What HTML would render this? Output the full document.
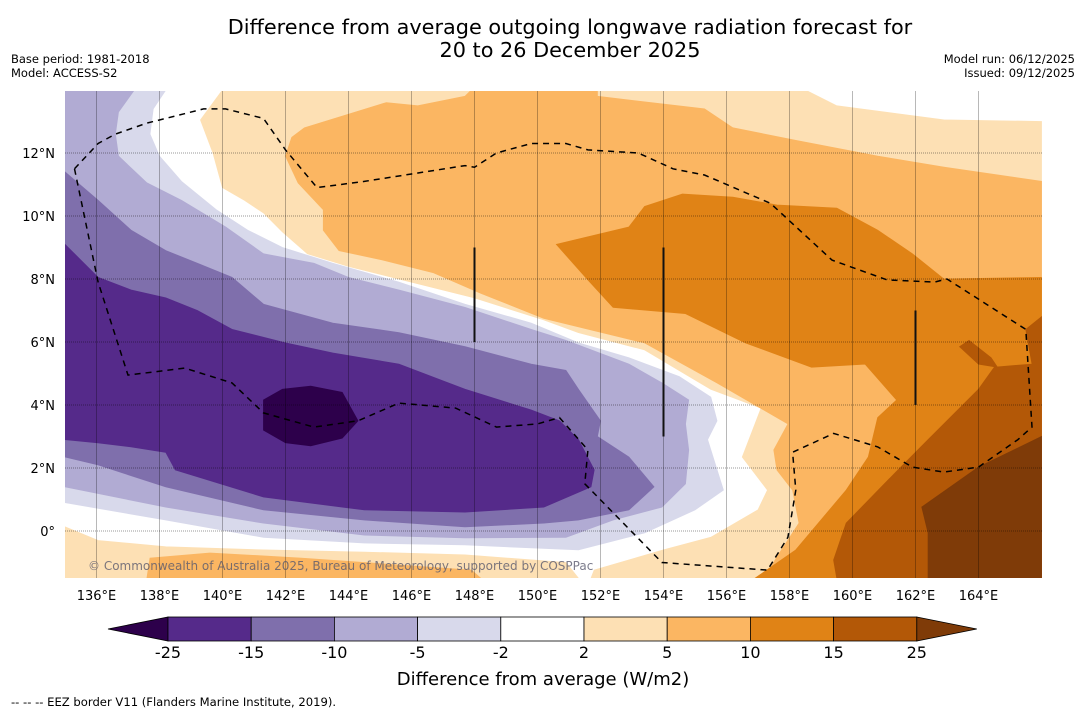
<!DOCTYPE html>
<html><head><meta charset="utf-8">
<style>
html,body{margin:0;padding:0;background:#fff;}
body{width:1085px;height:713px;position:relative;overflow:hidden;font-family:"Liberation Sans","DejaVu Sans",sans-serif;}
svg{position:absolute;left:0;top:0;}
</style></head>
<body>
<svg id="chart" width="1085" height="713" font-family="'DejaVu Sans','Liberation Sans',sans-serif">
  <text x="570" y="34" font-size="20.8" text-anchor="middle">Difference from average outgoing longwave radiation forecast for</text>
  <text x="570" y="57" font-size="20.8" text-anchor="middle">20 to 26 December 2025</text>
  <text x="11" y="63" font-size="11.5">Base period: 1981-2018</text>
  <text x="11" y="77" font-size="11.5">Model: ACCESS-S2</text>
  <text x="1075" y="63" font-size="11.5" text-anchor="end">Model run: 06/12/2025</text>
  <text x="1075" y="77" font-size="11.5" text-anchor="end">Issued: 09/12/2025</text>
  <defs><clipPath id="mapclip"><rect x="65" y="91" width="977" height="487"/></clipPath></defs>
  <g id="map" clip-path="url(#mapclip)">
    <rect x="65" y="91" width="977" height="487" fill="#ffffff"/>
  </g>
  <g id="axes"></g>
  <g id="cbar"></g>
  <text x="543" y="685" font-size="18" text-anchor="middle">Difference from average (W/m2)</text>
  <text x="11" y="706" font-size="11.6">--  --  -- EEZ border V11 (Flanders Marine Institute, 2019).</text>
</svg>
<script>
// Contour polygons in [lon, lat]
const ge2 = [[140,14],[158.5,14],[159.5,13.5],[162.9,13.05],[166,13],[166,-1.5],[151.7,-1.5],[151.8,-1.24],[154,-0.6],[155.5,-0.2],[157,0.67],[157.3,1.3],[156.5,2.35],[157.1,3.9],[155.5,4.5],[153.4,5.75],[151.3,6.3],[150.2,6.7],[148,7.4],[145.6,8.0],[144,8.4],[142.7,8.8],[141.9,9.5],[141.3,10.1],[140.7,10.5],[140,10.9],[139.7,12],[139.3,13.05]];
const ge2b = [[135,0.13],[136.05,-0.3],[138.2,-0.5],[141.3,-0.6],[144.5,-0.67],[147.7,-0.76],[150.9,-1.0],[151.3,-1.5],[135,-1.5]];
const ge5 = [[142.2,12.5],[142.6,12.8],[145.2,13.6],[146.2,13.5],[147.7,13.8],[147.9,14],[151.9,14],[151.9,13.8],[155.3,13.4],[156.2,12.8],[158.2,12.4],[160.8,11.9],[162.9,11.55],[166,11.1],[166,-1.5],[157.2,-1.5],[157.6,-0.83],[158.3,0.25],[158.1,1.3],[157.6,1.94],[157.5,2.57],[157.95,3.4],[155.7,4.7],[153.4,5.97],[150.2,6.75],[148.2,7.55],[146.7,8.2],[145.1,8.6],[143.7,8.9],[143.2,9.55],[143.2,10.2],[142.4,11.05],[142,11.9]];
const ge5b = [[137.6,-1.5],[137.7,-0.86],[139.6,-0.7],[142.5,-0.86],[145.6,-1.08],[147.9,-1.24],[148.2,-1.5]];
const ge10 = [[150.6,9.1],[152.9,9.65],[153.4,10.3],[154.6,10.7],[156.2,10.6],[157.6,10.35],[159.5,10.25],[160.8,9.55],[161.9,8.8],[162.9,8.0],[166,8.05],[166,-1.5],[156.9,-1.5],[158.2,-0.6],[159.8,1.3],[160.5,2.35],[160.8,3.6],[161.4,4.16],[160.4,5.3],[158.7,5.2],[156.6,5.97],[154.7,6.9],[152.4,7.1],[151.6,7.97]];
const ge15 = [[166,6.8],[165.5,6.4],[165.7,5.3],[164.5,5.2],[164,4.5],[162.4,2.9],[161.35,1.84],[159.8,0.25],[159.4,-0.92],[159.5,-1.5],[166,-1.5]];
const ge15b = [[163.4,5.85],[163.7,6.05],[164.4,5.5],[164.6,5.2],[164,5.3]];
const ge25 = [[166,3.0],[164,2.03],[162.2,0.76],[162.4,-0.06],[162.4,-1.5],[166,-1.5]];
const le2 = [[135,14],[138.2,14],[137.8,13.4],[137.7,12.6],[138,11.9],[138.7,11.1],[139.8,10.2],[140.8,9.55],[141.9,9.0],[143.5,8.5],[145.6,7.9],[147.7,7.2],[149.8,6.6],[151.3,5.97],[152.9,5.5],[154.5,4.9],[155.5,4.25],[155.7,3.5],[155.4,2.9],[155.9,1.3],[155,0.67],[153.4,-0.06],[151.3,-0.6],[147.7,-0.44],[144.5,-0.38],[141.3,-0.2],[138.2,0.35],[135,0.9]];
const le5 = [[135,14],[137.2,14],[136.7,13.3],[136.6,12.6],[136.7,11.9],[137.6,11.05],[138.7,10.5],[140.1,9.65],[141.3,8.8],[142.9,8.5],[144,8.05],[145.6,7.65],[147.7,7.1],[149.8,6.4],[150.9,6.05],[152.9,5.3],[153.95,4.7],[154.8,4.16],[154.7,3.4],[154.8,2.57],[154.7,1.5],[153.95,0.76],[152.4,0.35],[150.9,-0.2],[147.7,-0.22],[144.5,-0.13],[141.3,0.25],[138.2,0.76],[135,1.4]];
const le10 = [[135,11.4],[136.05,10.5],[137.1,9.55],[138.2,8.9],[139.2,8.5],[140.3,8.05],[141.3,7.2],[143.5,6.6],[145.6,6.3],[147.7,5.85],[149.8,5.3],[150.9,5.1],[151.3,4.5],[152,3.5],[151.9,3.0],[152.9,2.35],[153.7,1.4],[152.9,0.67],[151.3,0.35],[150.2,0.25],[147.7,0.13],[144.5,0.35],[141.3,0.67],[138.2,1.4],[136.05,2.1],[135,2.35]];
const le15 = [[135,9.1],[136.05,8.05],[137.1,7.65],[138.2,7.4],[139.2,7.0],[140.3,6.4],[142,5.97],[143.5,5.65],[145.6,5.3],[147.7,4.5],[149.8,3.84],[150.7,3.5],[151.3,2.9],[151.8,1.94],[151.7,1.4],[150.2,0.76],[147.7,0.6],[144.5,0.67],[141.3,1.08],[138.5,1.94],[138.2,2.5],[137.1,2.67],[136.05,2.8],[135,2.9]];
const le25 = [[141.3,4.16],[141.9,4.5],[142.8,4.6],[143.8,4.4],[144.3,3.5],[143.8,2.95],[142.8,2.7],[142,2.8],[141.3,3.2]];
const eez = [[135.3,11.5],[136.05,12.3],[136.6,12.6],[137.6,12.95],[139.4,13.4],[140.1,13.4],[141.3,13.1],[142,12.1],[143,10.9],[144.5,11.1],[147.7,11.6],[148,11.55],[148.7,12.0],[149.8,12.3],[150.9,12.3],[151.6,12.1],[153.2,12],[154.3,11.5],[155.3,11.3],[157.4,10.4],[159.35,8.6],[161.1,7.97],[162.6,7.9],[163,8.0],[165.5,6.4],[165.7,3.3],[165.25,2.9],[164,2.03],[162.9,1.87],[161.9,2.03],[160.8,2.67],[159.4,3.1],[158.1,2.5],[158.2,1.3],[157.95,-0.2],[157.3,-1.24],[153.95,-1.0],[151.5,1.5],[151.6,2.57],[150.7,3.6],[150,3.4],[148.7,3.3],[147.4,3.9],[145.6,4.06],[144.3,3.5],[142.9,3.3],[141.3,3.75],[140.3,4.7],[138.8,5.17],[137,4.95],[136.05,7.9]];
const boundaryBars = [[148,6,9],[154,3,9],[162,4,7]];
const lonTicks = [136,138,140,142,144,146,148,150,152,154,156,158,160,162,164];
const latTicks = [0,2,4,6,8,10,12];
const cbarLevels = ["-25","-15","-10","-5","-2","2","5","10","15","25"];
const cbarColors = ["#552a8a","#7f6fac","#b1abd3","#d8d9eb","#ffffff","#fde0b4","#fbb662","#e08316","#b35807"];

const NS = "http://www.w3.org/2000/svg";
const X0 = 65, PX = 31.5, Y0 = 531;
function xs(lon){ return X0 + (lon - 135) * PX; }
function ys(lat){ return Y0 - lat * PX; }
function mk(tag, attrs, parent){ const e = document.createElementNS(NS, tag); for (const k in attrs) e.setAttribute(k, attrs[k]); parent.appendChild(e); return e; }
function pts(arr){ return arr.map(p => xs(p[0]).toFixed(1) + "," + ys(p[1]).toFixed(1)).join(" "); }

const map = document.getElementById("map");
const layers = [
  [ge2,"#fde0b4","contour-2-to-5"],[ge2b,"#fde0b4","contour-2-to-5-south"],
  [ge5,"#fbb662","contour-5-to-10"],[ge5b,"#fbb662","contour-5-to-10-south"],
  [ge10,"#e08316","contour-10-to-15"],[ge15,"#b35807","contour-15-to-25"],[ge15b,"#b35807","contour-15-to-25-patch"],
  [ge25,"#7f3b08","contour-above-25"],
  [le2,"#d8d9eb","contour-minus2-to-minus5"],[le5,"#b1abd3","contour-minus5-to-minus10"],
  [le10,"#7f6fac","contour-minus10-to-minus15"],[le15,"#552a8a","contour-minus15-to-minus25"],
  [le25,"#2d004b","contour-below-minus25"]
];
layers.forEach(l => {
  const p = mk("polygon", {points: pts(l[0]), fill: l[1], stroke: l[1], "stroke-width": 0.8}, map);
  
  
});
lonTicks.forEach(lon => {
  const g = mk("line", {x1: xs(lon), x2: xs(lon), y1: 91, y2: 578, stroke: "rgba(0,0,0,0.28)", "stroke-width": 1}, map);
  
  
});
latTicks.forEach(lat => {
  const g = mk("line", {x1: 65, x2: 1042, y1: ys(lat), y2: ys(lat), stroke: "rgba(0,0,0,0.4)", "stroke-width": 1, "stroke-dasharray": "1,1"}, map);
  
  
});
const ez = mk("polygon", {points: pts(eez), fill: "none", stroke: "#000", "stroke-width": 1.5, "stroke-dasharray": "6,5"}, map);


boundaryBars.forEach(b => {
  const l = mk("line", {x1: xs(b[0]), x2: xs(b[0]), y1: ys(b[1]), y2: ys(b[2]), stroke: "#111", "stroke-width": 2}, map);
  
  
});
const cp = mk("text", {x: 88, y: 570, "font-size": 12, fill: "rgba(90,90,110,0.8)"}, map);
cp.textContent = "© Commonwealth of Australia 2025, Bureau of Meteorology, supported by COSPPac";



const axes = document.getElementById("axes");
lonTicks.forEach(lon => {
  const t = mk("text", {x: xs(lon), y: 600, "font-size": 13, "text-anchor": "middle"}, axes);
  t.textContent = lon + "°E";
  
  
});
latTicks.forEach(lat => {
  const t = mk("text", {x: 55, y: ys(lat) + 5, "font-size": 13, "text-anchor": "end"}, axes);
  t.textContent = lat === 0 ? "0°" : lat + "°N";
  
  
});

const cb = document.getElementById("cbar");
const cx0 = 168, cw = 83.2, cy = 617, ch = 24;
const lt = mk("polygon", {points: `108,${cy+ch/2} ${cx0},${cy} ${cx0},${cy+ch}`, fill: "#2d004b", stroke: "#000", "stroke-width": 0.8}, cb);


cbarColors.forEach((c, i) => {
  const r = mk("rect", {x: cx0 + i*cw, y: cy, width: cw, height: ch, fill: c, stroke: "#000", "stroke-width": 0.8}, cb);
  
  
});
const xe = cx0 + 9*cw;
const rt = mk("polygon", {points: `${xe},${cy} ${xe+60},${cy+ch/2} ${xe},${cy+ch}`, fill: "#7f3b08", stroke: "#000", "stroke-width": 0.8}, cb);


cbarLevels.forEach((lv, i) => {
  const t = mk("text", {x: cx0 + i*cw, y: 658, "font-size": 16, "text-anchor": "middle"}, cb);
  t.textContent = lv;
  
  
});
</script>
</body></html>
